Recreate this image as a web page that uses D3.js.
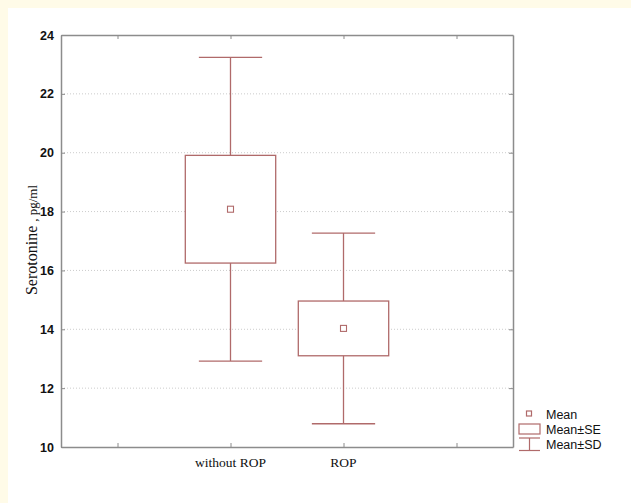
<!DOCTYPE html>
<html>
<head>
<meta charset="utf-8">
<script src="https://cdn.jsdelivr.net/npm/d3@7"></script>
<style>
  body { margin: 0; background: #fffbe8; }
</style>
</head>
<body>
<div id="screen"></div>
<script>
//groups on the x axis
var groups = ["without ROP", "ROP"]
//where each group sits on the x scale
var groupPos = [1, 2]
//mean of each group
var means = [18.08, 14.03]
//standard error
var se = [1.83, 0.93]
//standard deviation
var sd = [5.16, 3.24]

//y tick values
var yTicks = [10, 12, 14, 16, 18, 20, 22, 24]
//x tick values
var xTicks = [0, 1, 2, 3]

//legend entries
var legendItems = ["Mean", "Mean±SE", "Mean±SD"]

var WIDTH = 631
var HEIGHT = 503
var COLOR = "#b06a6a"
var AXIS = "#8c8c8c"

//plot edges (not called "top": that name is taken by window.top)
var plotLeft = 61, plotRight = 513, plotTop = 35, plotBottom = 447

function render(){
    var svg = d3.select("#screen")
        .append("svg")
        .attr("width", WIDTH)
        .attr("height", HEIGHT)

    //white panel
    svg.append("rect")
        .attr("x", 8).attr("y", 8)
        .attr("width", WIDTH - 8).attr("height", HEIGHT - 8)
        .attr("fill", "#ffffff")

    var x = d3.scaleLinear().domain([-0.5, 3.5]).range([plotLeft, plotRight])
    var y = d3.scaleLinear().domain([10, 24]).range([plotBottom, plotTop])

    //grid lines
    svg.selectAll(".grid")
        .data(yTicks.slice(1, -1))
        .enter()
        .append("line")
        .attr("x1", plotLeft).attr("x2", plotRight)
        .attr("y1", d => y(d)).attr("y2", d => y(d))
        .attr("stroke", "#cccccc")
        .attr("stroke-dasharray", "1,2")

    //axes, ticks point inward
    var yAxis = svg.append("g")
        .attr("transform", "translate(" + plotLeft + ",0)")
        .call(d3.axisLeft(y).tickValues(yTicks).tickSizeInner(-4).tickSizeOuter(0).tickPadding(7))
    svg.append("g")
        .attr("transform", "translate(" + plotRight + ",0)")
        .call(d3.axisRight(y).tickValues(yTicks).tickSizeInner(-4).tickSizeOuter(0).tickFormat(""))
    svg.append("g")
        .attr("transform", "translate(0," + plotBottom + ")")
        .call(d3.axisBottom(x).tickValues(xTicks).tickSizeInner(-4).tickSizeOuter(0).tickFormat(""))
    svg.append("g")
        .attr("transform", "translate(0," + plotTop + ")")
        .call(d3.axisTop(x).tickValues(xTicks).tickSizeInner(-4).tickSizeOuter(0).tickFormat(""))

    svg.selectAll(".domain").attr("stroke", AXIS).attr("stroke-width", 1.5)
    svg.selectAll(".tick line").attr("stroke", AXIS)
    yAxis.selectAll("text")
        .attr("font-family", "Liberation Sans, Arial, sans-serif")
        .attr("font-size", 12.5)
        .attr("font-weight", "bold")
        .attr("fill", "#111")

    //x group labels
    svg.selectAll(".xlab")
        .data(groups)
        .enter()
        .append("text")
        .attr("x", (d, i) => x(groupPos[i]))
        .attr("y", 467)
        .attr("text-anchor", "middle")
        .attr("font-family", "Liberation Serif, Times New Roman, serif")
        .attr("font-size", 13.5)
        .attr("fill", "#111")
        .text(d => d)

    //y axis title
    var yt = svg.append("text")
        .attr("transform", "translate(37," + 240 + ") rotate(-90)")
        .attr("text-anchor", "middle")
        .attr("font-family", "Liberation Serif, Times New Roman, serif")
        .attr("fill", "#111")
    yt.append("tspan").attr("font-size", 16).text("Serotonine ")
    yt.append("tspan").attr("font-size", 13).text(", pg/ml")

    var boxW = 0.4, capW = 0.28

    var g = svg.selectAll(".grp")
        .data(groups)
        .enter()
        .append("g")
        .attr("fill", "none")
        .attr("stroke", COLOR)
        .attr("stroke-width", 1.3)

    //SD whiskers
    g.append("line")
        .attr("x1", (d, i) => x(groupPos[i])).attr("x2", (d, i) => x(groupPos[i]))
        .attr("y1", (d, i) => y(means[i] + sd[i])).attr("y2", (d, i) => y(means[i] - sd[i]))
    g.append("line")
        .attr("x1", (d, i) => x(groupPos[i] - capW)).attr("x2", (d, i) => x(groupPos[i] + capW))
        .attr("y1", (d, i) => y(means[i] + sd[i])).attr("y2", (d, i) => y(means[i] + sd[i]))
    g.append("line")
        .attr("x1", (d, i) => x(groupPos[i] - capW)).attr("x2", (d, i) => x(groupPos[i] + capW))
        .attr("y1", (d, i) => y(means[i] - sd[i])).attr("y2", (d, i) => y(means[i] - sd[i]))

    //SE boxes
    g.append("rect")
        .attr("x", (d, i) => x(groupPos[i] - boxW))
        .attr("width", (d, i) => x(groupPos[i] + boxW) - x(groupPos[i] - boxW))
        .attr("y", (d, i) => y(means[i] + se[i]))
        .attr("height", (d, i) => y(means[i] - se[i]) - y(means[i] + se[i]))
        .attr("fill", "#ffffff")

    //mean squares
    g.append("rect")
        .attr("x", (d, i) => x(groupPos[i]) - 3)
        .attr("y", (d, i) => y(means[i]) - 3)
        .attr("width", 6).attr("height", 6)
        .attr("stroke-width", 1.1)

    //legend
    var lg = svg.append("g")
    lg.selectAll("text")
        .data(legendItems)
        .enter()
        .append("text")
        .attr("x", 546)
        .attr("y", (d, i) => 418.5 + i * 15)
        .attr("font-family", "Liberation Sans, Arial, sans-serif")
        .attr("font-size", 12.5)
        .attr("fill", "#111")
        .text(d => d)

    var ls = lg.append("g").attr("fill", "none").attr("stroke", COLOR).attr("stroke-width", 1.2)
    ls.append("rect").attr("x", 526.5).attr("y", 411).attr("width", 5).attr("height", 5)
    ls.append("rect").attr("x", 519).attr("y", 424).attr("width", 21).attr("height", 10)
    ls.append("line").attr("x1", 519).attr("x2", 540).attr("y1", 438).attr("y2", 438)
    ls.append("line").attr("x1", 529.5).attr("x2", 529.5).attr("y1", 438).attr("y2", 450.5)
    ls.append("line").attr("x1", 519).attr("x2", 540).attr("y1", 450.5).attr("y2", 450.5)
}

render()
</script>
</body>
</html>
